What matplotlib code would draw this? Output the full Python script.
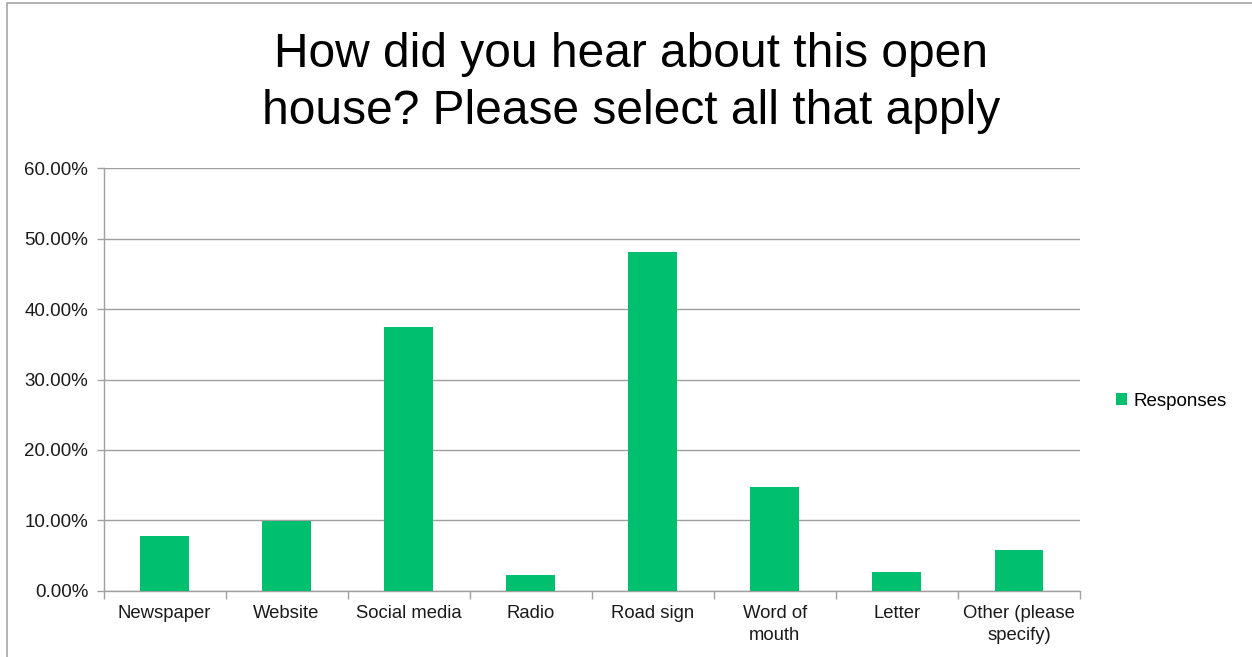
import matplotlib
matplotlib.use("Agg")
import matplotlib.pyplot as plt
from matplotlib.patches import Rectangle
from matplotlib.ticker import FuncFormatter, FixedLocator
import numpy as np

categories = ["Newspaper", "Website", "Social media", "Radio", "Road sign",
              "Word of\nmouth", "Letter", "Other (please\nspecify)"]
values = [7.8, 9.9, 37.5, 2.2, 48.1, 14.8, 2.7, 5.8]
y_ticks = [0, 10, 20, 30, 40, 50, 60]
title = "How did you hear about this open\nhouse? Please select all that apply"
series_name = "Responses"

plt.rcParams['font.family'] = ['Liberation Sans', 'DejaVu Sans']

W, H = 1252, 657
fig = plt.figure(figsize=(W / 100, H / 100), dpi=100)
fig.patch.set_facecolor("white")
# chart border
fig.patches.append(Rectangle((7 / W, -0.01), 1.2, 1 - 3 / H + 0.01, transform=fig.transFigure,
                             fill=False, edgecolor="#a6a6a6", linewidth=1.2))

left, right, top, bottom = 103.5, 1080, 168.3, 590.7
ax = fig.add_axes([left / W, 1 - bottom / H, (right - left) / W, (bottom - top) / H])

x = np.arange(len(categories))
ax.bar(x, values, width=0.4, color="#00BF6F", label=series_name, zorder=3)

ax.set_xlim(-0.5, len(categories) - 0.5)
ax.set_ylim(0, 60)
ax.yaxis.set_major_locator(FixedLocator(y_ticks))
ax.yaxis.set_major_formatter(FuncFormatter(lambda v, p: f"{v:.2f}%"))
ax.grid(axis="y", color="#a0a0a0", linewidth=1.0, zorder=0)
for s in ["top", "right"]:
    ax.spines[s].set_visible(False)
for s in ["left", "bottom"]:
    ax.spines[s].set_color("#a0a0a0")
    ax.spines[s].set_linewidth(1.0)

ax.set_xticks(x)
ax.set_xticklabels(categories, fontsize=13.3, color="#1a1a1a", linespacing=1.4)
ax.tick_params(axis="x", length=0, pad=10)
ax.set_xticks(np.arange(-0.5, len(categories), 1.0), minor=True)
ax.tick_params(axis="x", which="minor", length=6, color="#a0a0a0", width=1.0)
ax.tick_params(axis="y", length=5, color="#a0a0a0", width=1.0, labelsize=13.5,
               labelcolor="#1a1a1a", pad=6)

fig.text(0.504, 1 - 83 / H, title, ha="center", va="center", fontsize=34.5,
         color="black", linespacing=1.33)

leg = fig.legend(loc="center left", bbox_to_anchor=(1099 / W, 1 - 401 / H), frameon=False,
                 fontsize=13.5, handlelength=0.6, handleheight=0.6, handletextpad=0.35)

fig.savefig("out.png", dpi=100, facecolor="white")
